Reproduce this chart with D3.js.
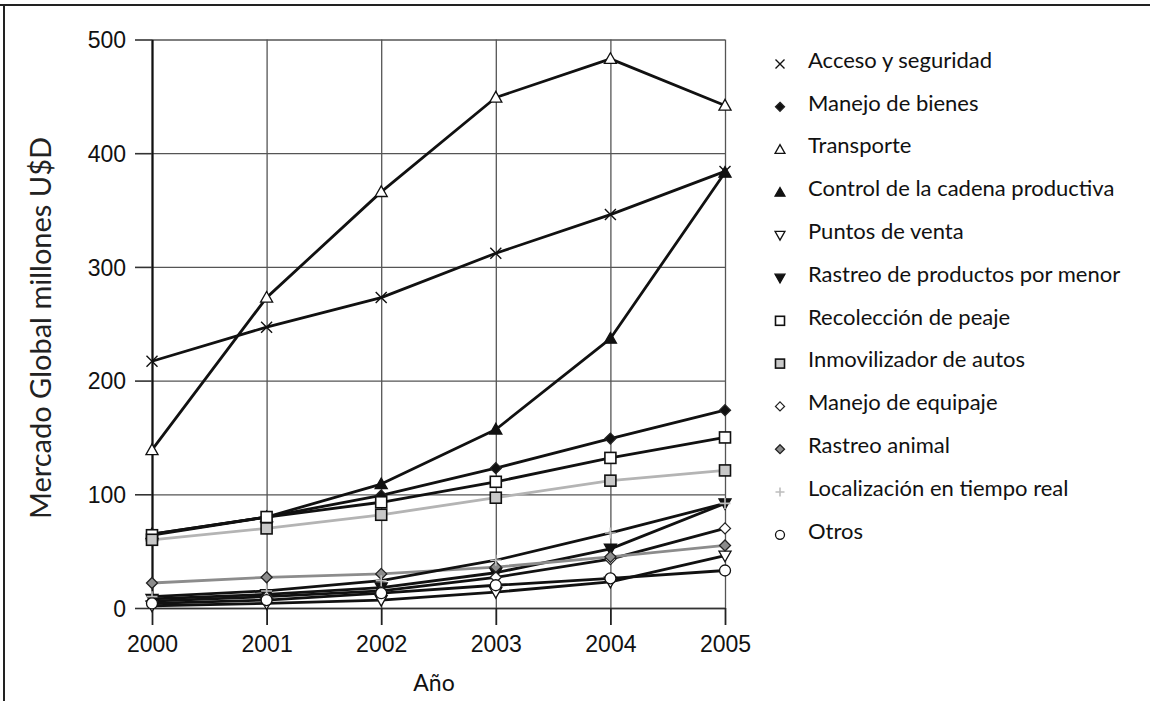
<!DOCTYPE html>
<html>
<head>
<meta charset="utf-8">
<script src="https://cdn.jsdelivr.net/npm/d3@7"></script>
<style>
  body { margin: 0; background: #fff; }
  svg { display: block; }
</style>
</head>
<body>
<svg id="grafico" width="1150" height="701"></svg>
<script>
// Datos (millones U$D)
const anios = [2000, 2001, 2002, 2003, 2004, 2005];
const ticksY = [0, 100, 200, 300, 400, 500];

const series = [
    "Acceso y seguridad",
    "Manejo de bienes",
    "Transporte",
    "Control de la cadena productiva",
    "Puntos de venta",
    "Rastreo de productos por menor",
    "Recolección de peaje",
    "Inmovilizador de autos",
    "Manejo de equipaje",
    "Rastreo animal",
    "Localización en tiempo real",
    "Otros"
];

const accesoSeguridad   = [217, 247, 273, 312, 346, 384];
const manejoBienes      = [65, 80, 99, 123, 149, 174];
const transporte        = [139, 273, 366, 449, 483, 442];
const controlCadena     = [65, 80, 109, 157, 237, 383];
const puntosVenta       = [2, 4, 7, 14, 23, 46];
const rastreoProductos  = [8, 12, 18, 31, 52, 92];
const recoleccionPeaje  = [64, 80, 93, 111, 132, 150];
const inmovilizador     = [60, 70, 82, 97, 112, 121];
const manejoEquipaje    = [6, 10, 15, 27, 43, 70];
const rastreoAnimal     = [22, 27, 30, 36, 45, 55];
const localizacion      = [10, 15, 24, 42, 66, 92];
const otros             = [4, 7, 13, 20, 26, 33];

const valores = [accesoSeguridad, manejoBienes, transporte, controlCadena, puntosVenta,
    rastreoProductos, recoleccionPeaje, inmovilizador, manejoEquipaje, rastreoAnimal,
    localizacion, otros];

// estilo de cada serie: marcador, relleno, color de línea
const estilos = [
    { marca: "cruz",    relleno: "none",    linea: "#111" },
    { marca: "rombo",   relleno: "#111",    linea: "#111" },
    { marca: "triArr",  relleno: "#fff",    linea: "#111" },
    { marca: "triArr",  relleno: "#111",    linea: "#111" },
    { marca: "triAba",  relleno: "#fff",    linea: "#111" },
    { marca: "triAba",  relleno: "#111",    linea: "#111" },
    { marca: "cuadro",  relleno: "#fff",    linea: "#111" },
    { marca: "cuadro",  relleno: "#c8c8c8", linea: "#b4b4b4" },
    { marca: "rombo",   relleno: "#fff",    linea: "#111" },
    { marca: "rombo",   relleno: "#8c8c8c", linea: "#8c8c8c" },
    { marca: "mas",     relleno: "none",    linea: "#111" },
    { marca: "circulo", relleno: "#fff",    linea: "#111" }
];

const svg = d3.select("#grafico");
const margin = { top: 39.5, left: 152, right: 725, bottom: 608 };

const x = d3.scaleLinear().domain([2000, 2005]).range([margin.left, margin.right]);
const y = d3.scaleLinear().domain([0, 500]).range([margin.bottom, margin.top]);

// Marco del recorte
svg.append("line").attr("x1", 0).attr("x2", 1150).attr("y1", 5).attr("y2", 5)
    .attr("stroke", "#222").attr("stroke-width", 2);
svg.append("line").attr("x1", 4).attr("x2", 4).attr("y1", 4).attr("y2", 701)
    .attr("stroke", "#222").attr("stroke-width", 2);

// Grid
svg.append("g")
    .attr("transform", `translate(${margin.left},0)`)
    .call(d3.axisLeft(y).tickValues(ticksY).tickSize(-(margin.right - margin.left)).tickFormat(""))
    .call(g => g.select(".domain").remove())
    .selectAll("line").attr("stroke", "#555").attr("stroke-width", 1.3);

svg.append("g")
    .attr("transform", `translate(0,${margin.bottom})`)
    .call(d3.axisBottom(x).tickValues(anios).tickSize(-(margin.bottom - margin.top)).tickFormat(""))
    .call(g => g.select(".domain").remove())
    .selectAll("line").attr("stroke", "#555").attr("stroke-width", 1.3);

// Ejes con ticks hacia fuera
const ejeY = svg.append("g")
    .attr("transform", `translate(${margin.left},0)`)
    .call(d3.axisLeft(y).tickValues(ticksY).tickSize(17).tickPadding(9).tickSizeOuter(0));
ejeY.select(".domain").attr("stroke", "#111").attr("stroke-width", 2.2);
ejeY.selectAll("line").attr("stroke", "#333").attr("stroke-width", 1.6);
ejeY.selectAll("text").style("font-family", "'Liberation Sans', Arial, sans-serif")
    .style("font-size", "23px").attr("fill", "#111").attr("dy", "0.36em");

const ejeX = svg.append("g")
    .attr("transform", `translate(0,${margin.bottom})`)
    .call(d3.axisBottom(x).tickValues(anios).tickFormat(d3.format("d")).tickSize(17).tickPadding(11).tickSizeOuter(0));
ejeX.select(".domain").attr("stroke", "#333").attr("stroke-width", 1.3);
ejeX.selectAll("line").attr("stroke", "#222").attr("stroke-width", 1.8);
ejeX.selectAll("text").style("font-family", "'Liberation Sans', Arial, sans-serif")
    .style("font-size", "23px").attr("fill", "#111");

// Títulos de ejes
svg.append("text")
    .attr("transform", `translate(51, 328) rotate(-90)`)
    .attr("text-anchor", "middle")
    .style("font-family", "Lato, 'Open Sans', sans-serif")
    .style("font-size", "29px")
    .attr("fill", "#222")
    .text("Mercado Global millones U$D");

svg.append("text")
    .attr("x", 434).attr("y", 691)
    .attr("text-anchor", "middle")
    .style("font-family", "Lato, 'Open Sans', sans-serif")
    .style("font-size", "23px")
    .attr("fill", "#111")
    .text("Año");

// Dibuja un marcador en (cx, cy)
function marcador(g, tipo, cx, cy, tam, relleno) {
    const s = tam;
    if (tipo === "cruz") {
        g.append("path").attr("d", `M${cx - s / 2},${cy - s / 2}L${cx + s / 2},${cy + s / 2}M${cx - s / 2},${cy + s / 2}L${cx + s / 2},${cy - s / 2}`)
            .attr("stroke", "#111").attr("stroke-width", 1.4).attr("fill", "none");
    } else if (tipo === "mas") {
        g.append("path").attr("d", `M${cx - s / 2},${cy}L${cx + s / 2},${cy}M${cx},${cy - s / 2}L${cx},${cy + s / 2}`)
            .attr("stroke", "#bdbdbd").attr("stroke-width", 1.6).attr("fill", "none");
    } else if (tipo === "rombo") {
        g.append("path").attr("d", `M${cx},${cy - s / 2}L${cx + s / 2},${cy}L${cx},${cy + s / 2}L${cx - s / 2},${cy}Z`)
            .attr("fill", relleno).attr("stroke", "#222").attr("stroke-width", 1.3);
    } else if (tipo === "triArr") {
        g.append("path").attr("d", `M${cx},${cy - s * 0.55}L${cx + s * 0.55},${cy + s * 0.42}L${cx - s * 0.55},${cy + s * 0.42}Z`)
            .attr("fill", relleno).attr("stroke", "#111").attr("stroke-width", 1.3);
    } else if (tipo === "triAba") {
        g.append("path").attr("d", `M${cx},${cy + s * 0.55}L${cx + s * 0.55},${cy - s * 0.42}L${cx - s * 0.55},${cy - s * 0.42}Z`)
            .attr("fill", relleno).attr("stroke", "#111").attr("stroke-width", 1.3);
    } else if (tipo === "cuadro") {
        g.append("rect").attr("x", cx - s / 2).attr("y", cy - s / 2).attr("width", s).attr("height", s)
            .attr("fill", relleno).attr("stroke", "#111").attr("stroke-width", 1.6);
    } else if (tipo === "circulo") {
        g.append("circle").attr("cx", cx).attr("cy", cy).attr("r", s / 2)
            .attr("fill", relleno).attr("stroke", "#111").attr("stroke-width", 1.3);
    }
}

// Líneas
const linea = d3.line()
    .x((d, i) => x(anios[i]))
    .y(d => y(d));

const capaLineas = svg.append("g");
valores.forEach((serie, k) => {
    capaLineas.append("path")
        .datum(serie)
        .attr("fill", "none")
        .attr("stroke", estilos[k].linea)
        .attr("stroke-width", 2.8)
        .attr("stroke-linejoin", "round")
        .attr("d", linea);
});

// Marcadores
const capaMarcas = svg.append("g");
valores.forEach((serie, k) => {
    serie.forEach((v, i) => {
        marcador(capaMarcas, estilos[k].marca, x(anios[i]), y(v), 11, estilos[k].relleno);
    });
});

// Leyenda
const leyenda = svg.append("g").attr("transform", "translate(780, 60)");
series.forEach((nombre, i) => {
    const fila = leyenda.append("g").attr("transform", `translate(0, ${i * 42.8})`);
    marcador(fila, estilos[i].marca, 0, 4, 9, estilos[i].relleno);
    fila.append("text")
        .attr("x", 28).attr("y", 0)
        .attr("dy", "0.35em")
        .style("font-family", "Lato, 'Open Sans', sans-serif")
        .style("font-size", "22px")
        .attr("fill", "#111")
        .text(nombre);
});
</script>
</body>
</html>
